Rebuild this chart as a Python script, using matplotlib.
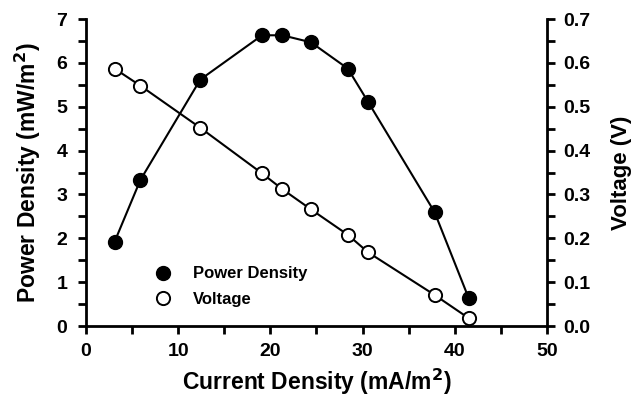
import matplotlib
matplotlib.use("Agg")
import matplotlib.pyplot as plt
from matplotlib.ticker import MultipleLocator

plt.rcParams['font.family'] = ['Liberation Sans', 'DejaVu Sans']
plt.rcParams['font.weight'] = 'bold'
plt.rcParams['mathtext.default'] = 'bf'

current = [3.1, 5.9, 12.4, 19.1, 21.3, 24.4, 28.4, 30.6, 37.8, 41.5]
power = [1.92, 3.33, 5.62, 6.63, 6.63, 6.47, 5.87, 5.11, 2.60, 0.64]
voltage = [0.587, 0.548, 0.452, 0.348, 0.312, 0.266, 0.208, 0.168, 0.071, 0.018]

fig = plt.figure(figsize=(6.35, 3.97), dpi=100)
ax = fig.add_axes([0.1354, 0.1788, 0.726, 0.7732])
ax2 = ax.twinx()

lp, = ax.plot(current, power, '-o', color='black', mfc='black', mec='black',
              ms=10, lw=1.5, label='Power Density', zorder=3)
lv, = ax2.plot(current, voltage, '-o', color='black', mfc='white', mec='black',
               ms=9.5, lw=1.5, mew=1.4, label='Voltage', zorder=3)

ax.set_xlim(0, 50)
ax.set_ylim(0, 7)
ax2.set_ylim(0, 0.7)
ax.xaxis.set_major_locator(MultipleLocator(10))
ax.xaxis.set_minor_locator(MultipleLocator(5))
ax.yaxis.set_major_locator(MultipleLocator(1))
ax.yaxis.set_minor_locator(MultipleLocator(0.5))
ax2.yaxis.set_major_locator(MultipleLocator(0.1))
ax2.yaxis.set_minor_locator(MultipleLocator(0.05))
ax2.set_yticklabels([f"{v:.1f}" for v in ax2.get_yticks()])

for a in (ax, ax2):
    a.spines['top'].set_visible(False)
    for s in a.spines.values():
        s.set_linewidth(2)
    a.tick_params(which='major', direction='out', length=6, width=2, labelsize=14, pad=6)
    a.tick_params(which='minor', direction='out', length=6, width=2)
ax.tick_params(axis='y', which='major', pad=7.5)
ax.spines['right'].set_visible(False)
ax2.spines['left'].set_visible(False)
ax2.spines['bottom'].set_visible(False)

ax.set_xlabel('Current Density (mA/m$^{2}$)', fontsize=16.5, fontweight='bold', labelpad=5)
ax.set_ylabel('Power Density (mW/m$^{2}$)', fontsize=16.5, fontweight='bold', labelpad=9.5)
ax2.set_ylabel('Voltage (V)', fontsize=16, fontweight='bold', labelpad=14.5)

leg = ax.legend([lp, lv], ['Power Density', 'Voltage'], loc='lower left',
                bbox_to_anchor=(0.113, 0.012), frameon=False, fontsize=12,
                handlelength=1.2, handletextpad=1.2, labelspacing=0.65)
for line in leg.get_lines():
    line.set_linestyle('')

fig.savefig('out.png', dpi=100)
